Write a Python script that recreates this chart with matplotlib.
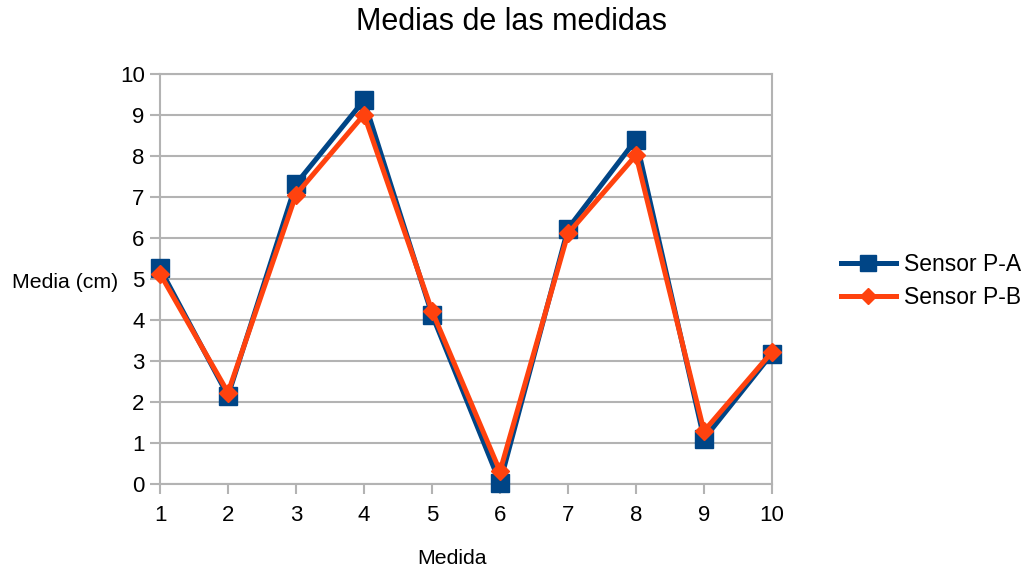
import matplotlib
matplotlib.use("Agg")
import matplotlib.pyplot as plt
from matplotlib.lines import Line2D

plt.rcParams['font.family'] = ['Liberation Sans', 'DejaVu Sans']

medidas = [1, 2, 3, 4, 5, 6, 7, 8, 9, 10]
sensor_a = [5.26, 2.15, 7.32, 9.36, 4.13, 0.03, 6.23, 8.40, 1.10, 3.18]
sensor_b = [5.13, 2.23, 7.06, 9.01, 4.22, 0.31, 6.11, 8.02, 1.29, 3.22]
labels = ["Sensor P-A", "Sensor P-B"]
title = "Medias de las medidas"
xlabel = "Medida"
ylabel = "Media (cm)"

col_a = "#004586"
col_b = "#ff420e"

fig = plt.figure(figsize=(10.3, 5.7), dpi=100)
ax = fig.add_axes([160/1030, 1-484/570, (772-160)/1030, (484-74)/570])

ax.plot(medidas, sensor_a, color=col_a, lw=3.6, marker='s', markersize=13, zorder=3, clip_on=False)
ax.plot(medidas, sensor_b, color=col_b, lw=3.6, marker='D', markersize=9.5, zorder=4, clip_on=False)

ax.set_xlim(1, 10)
ax.set_ylim(0, 10)
ax.set_xticks(medidas)
ax.set_yticks(range(0, 11))
ax.yaxis.grid(True, color='#b3b3b3', lw=1.5)
ax.set_axisbelow(True)
for s in ax.spines.values():
    s.set_color('#b3b3b3')
    s.set_linewidth(1.5)
ax.tick_params(axis='both', colors='#b3b3b3', labelcolor='black', labelsize=16, length=7, width=1.5)
ax.tick_params(axis='x', pad=8)
ax.tick_params(axis='y', pad=4)

fig.text(511/1030, 1-22/570, title, ha='center', va='center', fontsize=22)
fig.text(452/1030, 1-559/570, xlabel, ha='center', va='center', fontsize=15.3)
fig.text(12/1030, 1-283/570, ylabel, ha='left', va='center', fontsize=15.3)

handles = [Line2D([], [], color=col_a, lw=3.6, marker='s', markersize=11),
           Line2D([], [], color=col_b, lw=3.6, marker='D', markersize=8)]
fig.legend(handles, labels, loc='center left', bbox_to_anchor=(834/1030, 1-281/570),
           frameon=False, fontsize=16.5, handlelength=2.4, handletextpad=0.35, labelspacing=0.45,
           borderaxespad=0, borderpad=0.3)

fig.savefig("out.png", dpi=100)
